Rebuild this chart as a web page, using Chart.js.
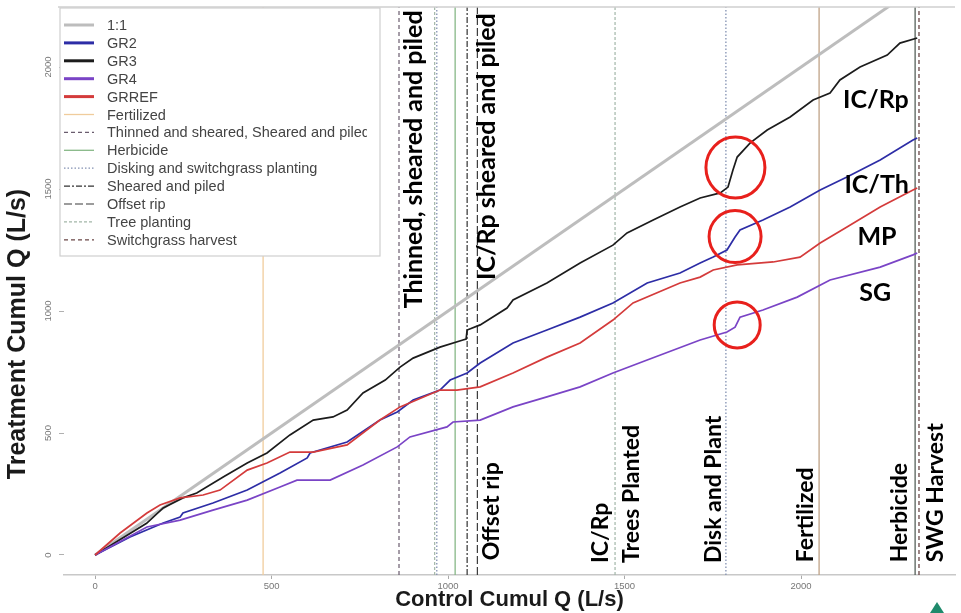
<!DOCTYPE html>
<html>
<head>
<meta charset="utf-8">
<script src="https://cdn.jsdelivr.net/npm/chart.js@4.4.1/dist/chart.umd.min.js"></script>
<style>
  html, body { margin: 0; padding: 0; background: #ffffff; }
  #wrap { width: 961px; height: 613px; }
</style>
</head>
<body>
<div id="wrap"><canvas id="c" width="961" height="613"></canvas></div>
<script>
// Cumulative discharge, control watershed (x) vs. treatment watersheds (y), L/s
const axisTicks = [0, 500, 1000, 1500, 2000];

const refLineQ = [0, 2600];
const refLineT = [0, 2600];

// GR2 (IC/Th)
const gr2Q = [0,99,193,241,249,334,431,524,601,609,714,807,856,901,977,1006,1054,1091,1184,1280,1374,1467,1564,1657,1714,1751,1790,1813,1827,1892,1969,2054,2130,2224,2317,2329];
const gr2T = [0,74,131,156,172,213,266,336,398,418,463,553,586,635,676,717,746,787,869,922,975,1033,1115,1156,1197,1221,1250,1303,1332,1373,1426,1496,1549,1619,1701,1709];

// GR3 (IC/Rp)
const gr3Q = [0,146,193,249,288,363,431,487,552,618,674,714,759,822,864,901,977,1042,1051,1054,1091,1167,1184,1280,1374,1467,1507,1581,1657,1714,1771,1793,1807,1819,1856,1904,1969,2034,2082,2110,2167,2244,2280,2329];
const gr3T = [0,130,193,234,254,320,377,418,492,553,566,594,664,717,770,807,852,881,885,922,943,1012,1045,1115,1197,1270,1320,1373,1426,1463,1484,1508,1578,1631,1689,1742,1795,1865,1893,1947,2000,2049,2098,2119];

// GR4 (SG)
const gr4Q = [0,147,241,334,431,524,572,666,759,856,892,997,1014,1091,1184,1280,1374,1467,1564,1714,1790,1813,1827,1892,1989,2082,2224,2317,2329];
const gr4T = [0,115,143,184,225,279,307,307,369,443,484,525,545,553,607,648,689,746,799,881,914,934,975,1004,1057,1127,1180,1230,1238];

// GRREF (MP)
const grrefQ = [0,71,147,184,241,306,354,431,487,552,618,714,807,864,977,1025,1091,1184,1280,1374,1467,1524,1657,1714,1751,1819,1921,1997,2054,2130,2224,2317,2329];
const grrefT = [0,90,172,205,234,246,266,348,377,422,422,451,553,607,676,676,689,746,811,869,963,1033,1115,1139,1168,1189,1201,1221,1279,1344,1426,1496,1504];

// Management events, at the control cumulative Q when they happened
const eventNames = ['Fertilized', 'Thinned and sheared, Sheared and piled', 'Herbicide',
  'Disking and switchgrass planting', 'Sheared and piled', 'Offset rip', 'Tree planting', 'Switchgrass harvest'];
const eventQ = [[476, 2051], [861], [1020, 2323], [968, 1787], [1054], [1083], [962, 1473], [2334]];

const seriesNames = ['1:1', 'GR2', 'GR3', 'GR4', 'GRREF'];

// ---- styling ----
const seriesStyle = {
  '1:1':   { color: '#bdbdbd', width: 3 },
  'GR2':   { color: '#2d2da6', width: 1.7 },
  'GR3':   { color: '#1c1c1c', width: 1.7 },
  'GR4':   { color: '#7a44c6', width: 1.7 },
  'GRREF': { color: '#d43b3b', width: 1.7 }
};
const eventStyle = {
  'Fertilized': { colors: ['#f0cc9c', '#bfa287'], dash: [], width: 1.3 },
  'Thinned and sheared, Sheared and piled': { colors: ['#6a5c6e'], dash: [4, 3], width: 1.2 },
  'Herbicide': { colors: ['#86b886', '#55605a'], dash: [], width: 1.3 },
  'Disking and switchgrass planting': { colors: ['#8391b2'], dash: [1.5, 2], width: 1.3 },
  'Sheared and piled': { colors: ['#333333'], dash: [6, 2, 2, 2], width: 1.2 },
  'Offset rip': { colors: ['#3a3a3a'], dash: [8, 3], width: 1.2 },
  'Tree planting': { colors: ['#a2b6a8'], dash: [3, 2], width: 1.2 },
  'Switchgrass harvest': { colors: ['#6a4646'], dash: [4, 3], width: 1.3 }
};

const Y_MIN = -82, Y_MAX = 2246, X_MIN = -88, X_MAX = 2436;

function pairs(xs, ys) { return xs.map((v, i) => ({ x: v, y: ys[i] })); }

const seriesData = {
  '1:1': pairs(refLineQ, refLineT),
  'GR2': pairs(gr2Q, gr2T),
  'GR3': pairs(gr3Q, gr3T),
  'GR4': pairs(gr4Q, gr4T),
  'GRREF': pairs(grrefQ, grrefT)
};

const datasets = [];
eventNames.forEach((name, k) => {
  const st = eventStyle[name];
  eventQ[k].forEach((q, j) => {
    datasets.push({
      label: name,
      data: [{ x: q, y: Y_MIN }, { x: q, y: Y_MAX }],
      borderColor: st.colors[Math.min(j, st.colors.length - 1)],
      borderWidth: st.width,
      borderDash: st.dash,
      pointRadius: 0,
      order: 5
    });
  });
});
seriesNames.forEach((name, k) => {
  const st = seriesStyle[name];
  datasets.push({
    label: name,
    data: seriesData[name],
    borderColor: st.color,
    borderWidth: st.width,
    pointRadius: 0,
    tension: 0,
    order: 4 - k
  });
});

// Text placed on the plot (data coordinates of the text start / centre)
const eventLabels = [
  { text: 'Thinned, sheared and piled', q: 904, t: 1011, size: 25 },
  { text: 'IC/Rp sheared and piled', q: 1110, t: 1127, size: 25 },
  { text: 'Offset rip', q: 1122, t: -22, size: 23 },
  { text: 'IC/Rp', q: 1431, t: -33, size: 23 },
  { text: 'Trees Planted', q: 1521, t: -33, size: 23 },
  { text: 'Disk and Plant', q: 1751, t: -33, size: 23 },
  { text: 'Fertilized', q: 2014, t: -30, size: 23 },
  { text: 'Herbicide', q: 2280, t: -30, size: 23 },
  { text: 'SWG Harvest', q: 2380, t: -30, size: 23 }
];
const seriesTags = [
  { text: 'IC/Rp', q: 2212, t: 1865 },
  { text: 'IC/Th', q: 2214, t: 1516 },
  { text: 'MP', q: 2215, t: 1303 },
  { text: 'SG', q: 2210, t: 1074 }
];
// Highlighted step changes after disking and planting
const highlights = [
  { q: 1814, t: 1588, rx: 29.5, ry: 30.5 },
  { q: 1813, t: 1305, rx: 26, ry: 26 },
  { q: 1819, t: 943, rx: 23, ry: 23 }
];

const legendEntries = seriesNames.concat(eventNames);

const overlay = {
  id: 'overlay',
  afterDatasetsDraw(chart) {
    const { ctx, chartArea: a, scales: { x, y } } = chart;
    ctx.save();

    // top frame line
    ctx.strokeStyle = '#cfcfcf';
    ctx.lineWidth = 1.5;
    ctx.beginPath(); ctx.moveTo(58, a.top); ctx.lineTo(a.right, a.top); ctx.stroke();

    // rotated y tick labels
    ctx.fillStyle = '#777777';
    ctx.font = '9.5px "Liberation Sans", Arial, sans-serif';
    ctx.textAlign = 'center';
    ctx.textBaseline = 'middle';
    axisTicks.forEach(v => {
      const py = y.getPixelForValue(v);
      ctx.save();
      ctx.translate(48, py);
      ctx.rotate(-Math.PI / 2);
      ctx.fillText(String(v), 0, 0);
      ctx.restore();
    });

    // y axis title
    ctx.save();
    ctx.fillStyle = '#1a1a1a';
    ctx.font = 'bold 25px "Liberation Sans", Arial, sans-serif';
    ctx.translate(18, 334);
    ctx.rotate(-Math.PI / 2);
    ctx.fillText('Treatment Cumul Q (L/s)', 0, 0);
    ctx.restore();

    // event annotations, reading bottom to top
    ctx.fillStyle = '#000000';
    ctx.textAlign = 'left';
    ctx.textBaseline = 'middle';
    eventLabels.forEach(l => {
      ctx.save();
      ctx.font = 'bold ' + l.size + 'px Lato, "Open Sans", sans-serif';
      ctx.translate(x.getPixelForValue(l.q), y.getPixelForValue(l.t));
      ctx.rotate(-Math.PI / 2);
      ctx.fillText(l.text, 0, 0);
      ctx.restore();
    });

    // series tags
    ctx.font = 'bold 25px Lato, "Open Sans", sans-serif';
    ctx.textAlign = 'center';
    seriesTags.forEach(l => {
      ctx.fillText(l.text, x.getPixelForValue(l.q), y.getPixelForValue(l.t));
    });

    // red highlight rings
    ctx.strokeStyle = '#e8201c';
    ctx.lineWidth = 3;
    highlights.forEach(h => {
      ctx.beginPath();
      ctx.ellipse(x.getPixelForValue(h.q), y.getPixelForValue(h.t), h.rx, h.ry, 0, 0, Math.PI * 2);
      ctx.stroke();
    });

    // legend box
    const bx = 60, by = 8, bw = 320, bh = 248;
    ctx.fillStyle = '#ffffff';
    ctx.fillRect(bx, by, bw, bh);
    ctx.strokeStyle = '#cfcfcf';
    ctx.lineWidth = 1.2;
    ctx.strokeRect(bx, by, bw, bh);
    ctx.save();
    ctx.beginPath(); ctx.rect(bx, by, 307, bh); ctx.clip();
    ctx.font = '14.5px "Liberation Sans", Arial, sans-serif';
    ctx.textAlign = 'left';
    ctx.textBaseline = 'middle';
    legendEntries.forEach((name, i) => {
      const ly = 25 + i * 17.9;
      const ds = chart.data.datasets.find(d => d.label === name);
      const isSeries = seriesNames.includes(name);
      ctx.strokeStyle = ds.borderColor;
      ctx.lineWidth = isSeries ? 3 : ds.borderWidth;
      ctx.setLineDash(ds.borderDash || []);
      ctx.beginPath(); ctx.moveTo(64, ly); ctx.lineTo(94, ly); ctx.stroke();
      ctx.setLineDash([]);
      ctx.fillStyle = '#444444';
      ctx.fillText(name, 107, ly + 1);
    });
    ctx.restore();

    // corner mark
    ctx.fillStyle = '#1f8a6c';
    ctx.beginPath(); ctx.moveTo(930, 613); ctx.lineTo(937, 602); ctx.lineTo(944, 613); ctx.closePath(); ctx.fill();

    ctx.restore();
  }
};

new Chart(document.getElementById('c'), {
  type: 'line',
  data: { datasets },
  options: {
    responsive: false,
    devicePixelRatio: 1,
    animation: false,
    events: [],
    layout: { padding: { top: 7, right: 6, bottom: 0, left: 0 } },
    plugins: { legend: { display: false }, tooltip: { enabled: false } },
    scales: {
      x: {
        type: 'linear',
        min: X_MIN, max: X_MAX,
        afterBuildTicks: s => { s.ticks = axisTicks.map(v => ({ value: v })); },
        afterFit: s => { s.height = 38; },
        border: { display: true, color: '#c8c8c8', width: 1.5 },
        grid: { drawOnChartArea: false, drawTicks: true, tickLength: 4, color: '#aaaaaa' },
        ticks: {
          color: '#777777', font: { size: 9.5, family: '"Liberation Sans", Arial, sans-serif' },
          padding: 2, maxRotation: 0, callback: v => String(v)
        },
        title: {
          display: true, text: 'Control Cumul Q (L/s)', color: '#1a1a1a',
          font: { size: 22, weight: 'bold', family: '"Liberation Sans", Arial, sans-serif' },
          padding: { top: 0, bottom: 0 }
        }
      },
      y: {
        type: 'linear',
        min: Y_MIN, max: Y_MAX,
        afterBuildTicks: s => { s.ticks = axisTicks.map(v => ({ value: v })); },
        afterFit: s => { s.width = 64; },
        border: { display: false },
        grid: { drawOnChartArea: false, drawTicks: true, tickLength: 5, color: '#b0b0b0' },
        ticks: { display: false },
        title: { display: false }
      }
    }
  },
  plugins: [overlay]
});
</script>
</body>
</html>
